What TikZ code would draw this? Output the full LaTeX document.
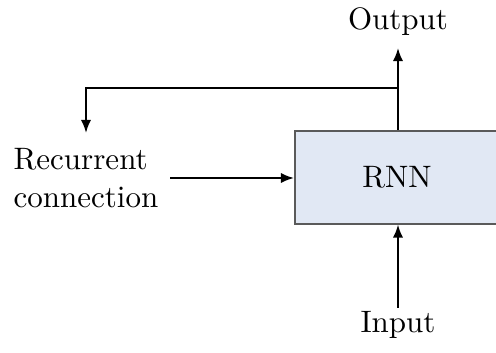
\documentclass[tikz,border=0pt]{standalone}
\usetikzlibrary{arrows.meta}
\definecolor{boxfill}{HTML}{E1E8F4}
\definecolor{boxline}{HTML}{5A5A5A}
\begin{document}
% one unit = 0.3226pt, so the 496 x 353 frame is about 160pt x 114pt
\begin{tikzpicture}[x=0.3226pt,y=-0.3226pt,
  font=\fontsize{10}{12.3}\selectfont,
  flow/.style={line width=0.65pt,-{Latex[length=4.2pt,width=3.3pt]}},
  rnnbox/.style={draw=boxline,line width=0.5pt,fill=boxfill,minimum width=68pt,minimum height=30pt,inner sep=0pt,anchor=north west},
  label/.style={inner sep=0pt}]
\useasboundingbox (0,0) rectangle (496,353);
\clip (0,0) rectangle (496,353);
% recurrent unit
\node[rnnbox] (rnn) at (294,130) {};
\node[label] (rnntext) at (397,177) {RNN};
% labels
\node[label,anchor=base] (out) at (398,30) {Output};
\node[label,anchor=base] (in) at (398,332) {Input};
\node[label,align=left,anchor=west] (rec) at (13,178) {Recurrent\\connection};
% connector endpoints
\coordinate (outtop) at (398,48);
\coordinate (outbot) at (398,130);
\coordinate (split) at (398,88);
\coordinate (corner) at (86,88);
\coordinate (rectip) at (86,133);
\coordinate (recstart) at (170,178);
\coordinate (inbot) at (398,308);
% connectors
\draw[flow] (outbot) -- (outtop);
\draw[flow] (split) -- (corner) -- (rectip);
\draw[flow] (recstart) -- (rnn.west |- recstart);
\draw[flow] (inbot) -- (inbot |- rnn.south);
\end{tikzpicture}
\end{document}
